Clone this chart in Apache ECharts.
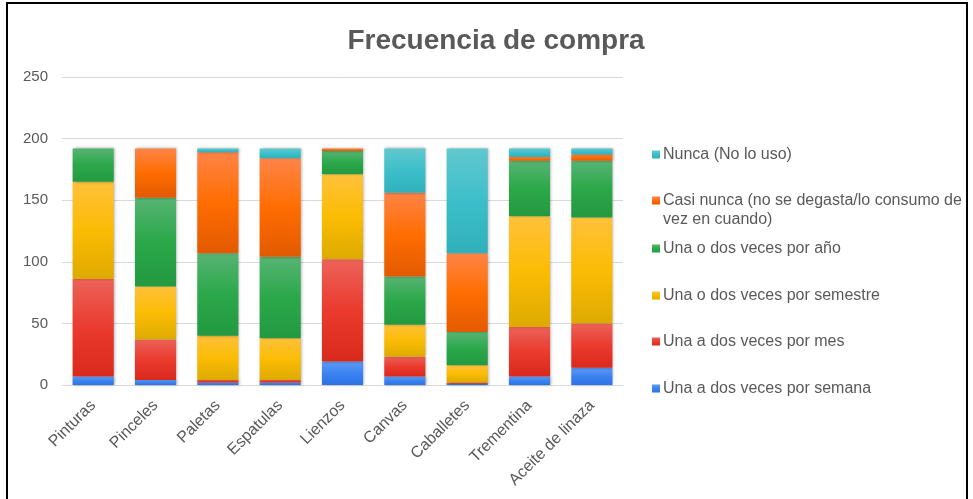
<!DOCTYPE html>
<html>
<head>
<meta charset="utf-8">
<script src="https://cdn.jsdelivr.net/npm/echarts@6/dist/echarts.min.js"></script>
<style>
  html, body { margin: 0; padding: 0; background: #fff; }
  #frame {
    position: absolute; left: 6px; top: 2px;
    width: 962px; height: 510px;
    border: 2px solid #000; box-sizing: border-box;
  }
  #chart { position: absolute; left: 0; top: 0; width: 973px; height: 499px; }
</style>
</head>
<body>
<div id="frame"></div>
<div id="chart"></div>
<script>
  var categories = ['Pinturas', 'Pinceles', 'Paletas', 'Espatulas', 'Lienzos', 'Canvas', 'Caballetes', 'Trementina', 'Aceite de linaza'];

  var semana   = [7, 4, 2, 2, 19, 7, 1, 7, 14];
  var mes      = [79, 33, 2, 2, 83, 16, 1, 40, 36];
  var semestre = [79, 43, 36, 34, 69, 26, 14, 90, 86];
  var anio     = [27, 72, 67, 66, 19, 39, 27, 45, 46];
  var casiNunca = [0, 40, 82, 80, 2, 68, 64, 3, 5];
  var nunca    = [0, 0, 3, 8, 0, 36, 85, 7, 5];

  var names = [
    'Una a dos veces por semana',
    'Una a dos veces por mes',
    'Una o dos veces por semestre',
    'Una o dos veces por año',
    'Casi nunca (no se degasta/lo consumo de vez en cuando)',
    'Nunca (No lo uso)'
  ];
  var values = [semana, mes, semestre, anio, casiNunca, nunca];
  var colors = [
    ['#5f9bf7', '#3b82f0', '#2c72e6'],
    ['#ec6259', '#ea3b2e', '#d9291d'],
    ['#ffc13a', '#fbbc04', '#deaa00'],
    ['#57b473', '#2ba84a', '#239940'],
    ['#ff8447', '#ff6d01', '#e25a00'],
    ['#61c8cf', '#3dbfcb', '#2fb0ba']
  ];
  var legendIcons = ['#4285f4', '#ea4335', '#fbbc04', '#34a853', '#ff6d01', '#46bdc6'];
  var legendTops = [374, 327, 281, 234, 167, 140];

  var series = names.map(function (n, i) {
    return {
      name: n,
      type: 'bar',
      stack: 'total',
      barWidth: '66%',
      data: values[i],
      color: legendIcons[i],
      itemStyle: {
        color: new echarts.graphic.LinearGradient(0, 0, 0, 1, [
          { offset: 0, color: colors[i][0] },
          { offset: 0.5, color: colors[i][1] },
          { offset: 1, color: colors[i][2] }
        ]),
        shadowColor: 'rgba(0,0,0,0.35)',
        shadowBlur: 3,
        shadowOffsetX: 1
      },
      emphasis: { disabled: true }
    };
  });

  // one legend per item so the spacing can follow the original
  var legends = names.map(function (n, i) {
    var twoLines = n.indexOf('Casi nunca') === 0;
    return {
      data: [n],
      orient: 'vertical',
      left: 647,
      top: legendTops[i],
      icon: 'rect',
      itemWidth: 8,
      itemHeight: 8,
      selectedMode: false,
      formatter: function (name) {
        // blank first line keeps the icon level with the first text line
        return twoLines ? '\nCasi nunca (no se degasta/lo consumo de\nvez en cuando)' : name;
      },
      textStyle: {
        color: '#595959',
        fontSize: 16,
        lineHeight: 19,
        fontFamily: 'Liberation Sans, Arial, sans-serif',
        padding: [0, 0, 0, -2]
      }
    };
  });

  var chart = echarts.init(document.getElementById('chart'));
  chart.setOption({
    animation: false,
    title: {
      text: 'Frecuencia de compra',
      left: 491,
      top: 22,
      textAlign: 'center',
      textStyle: { color: '#595959', fontSize: 28, fontWeight: 'bold', fontFamily: 'Liberation Sans, Arial, sans-serif' }
    },
    legend: legends,
    grid: { left: 62, right: 350, top: 77, bottom: 114 },
    xAxis: {
      type: 'category',
      data: categories,
      axisLine: { lineStyle: { color: '#d9d9d9', width: 1 } },
      axisTick: { show: false },
      axisLabel: {
        rotate: 45,
        interval: 0,
        margin: 18,
        color: '#595959',
        fontSize: 16,
        fontFamily: 'Liberation Sans, Arial, sans-serif'
      }
    },
    yAxis: {
      type: 'value',
      min: 0,
      max: 250,
      interval: 50,
      axisLine: { show: false },
      axisTick: { show: false },
      splitLine: { lineStyle: { color: '#d9d9d9', width: 1 } },
      axisLabel: {
        margin: 14,
        color: '#595959',
        fontSize: 15,
        fontFamily: 'Liberation Sans, Arial, sans-serif'
      }
    },
    series: series
  });
</script>
</body>
</html>
